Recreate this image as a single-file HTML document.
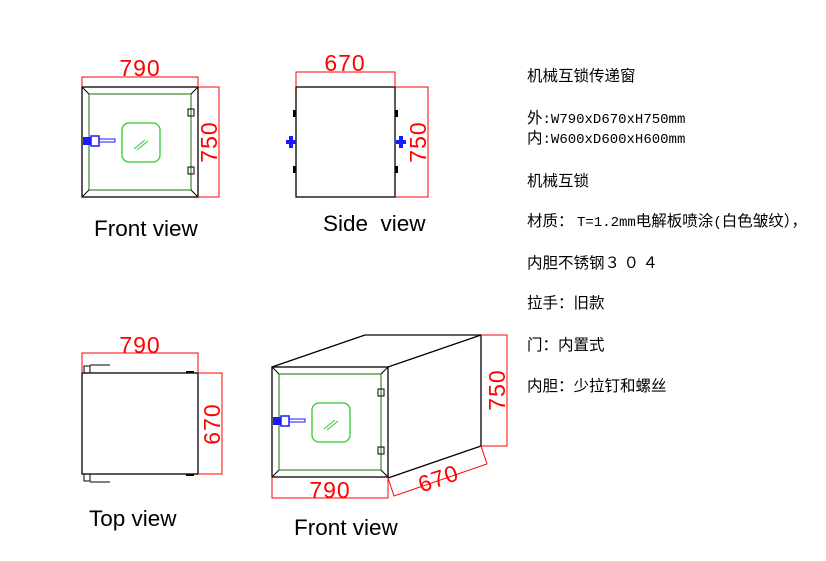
<!DOCTYPE html>
<html><head><meta charset="utf-8"><style>
body{margin:0;background:#fff;width:826px;height:561px;overflow:hidden}
svg{position:absolute;left:0;top:0}
.t{font-family:"Noto Sans CJK SC","WenQuanYi Zen Hei",sans-serif;font-size:15.5px;fill:#000}
.m{font-family:"Liberation Mono",monospace;font-size:14px}
.d{font-family:"Liberation Sans",sans-serif;font-size:23px;fill:#f00;letter-spacing:1px}
.l{font-family:"Liberation Sans",sans-serif;font-size:22.5px;fill:#000}
</style></head><body>
<svg width="826" height="561" viewBox="0 0 826 561">
<defs>
<g id="fv">
<rect x="0" y="0" width="116" height="110" fill="none" stroke="#000" stroke-width="1.3"/>
<rect x="7" y="7" width="102" height="96" fill="none" stroke="#3a8a2a" stroke-width="1.2"/>
<line x1="0" y1="0" x2="7" y2="7" stroke="#000"/><line x1="116" y1="0" x2="109" y2="7" stroke="#000"/>
<line x1="0" y1="110" x2="7" y2="103" stroke="#000"/><line x1="116" y1="110" x2="109" y2="103" stroke="#000"/>
<rect x="40" y="36" width="38" height="39" rx="7" fill="none" stroke="#2ecc2e" stroke-width="1.3"/>
<line x1="52" y1="62" x2="63" y2="53" stroke="#2ecc2e"/><line x1="55" y1="63" x2="66" y2="54" stroke="#2ecc2e"/>
<rect x="106" y="22" width="6" height="7" fill="none" stroke="#000"/>
<rect x="106" y="80" width="6" height="7" fill="none" stroke="#000"/>
<rect x="1" y="50" width="8" height="8" fill="#1a1aff"/>
<rect x="9" y="49" width="8" height="10" fill="none" stroke="#1a1aff" stroke-width="1.5"/>
<rect x="17" y="52" width="16" height="3" fill="none" stroke="#1a1aff"/>
</g>
</defs>
<use href="#fv" x="82" y="87"/>
<g stroke="#f00" stroke-width="1" fill="none">
<polyline points="82,87 82,77 198,77 198,87"/>
<polyline points="198,87 219,87 219,197 198,197"/>
</g>
<text class="d" x="140" y="76" text-anchor="middle">790</text>
<text class="d" transform="translate(217,142) rotate(-90)" text-anchor="middle">750</text>
<text class="l" x="94" y="236">Front view</text>
<rect x="296" y="87" width="99" height="110" fill="none" stroke="#000" stroke-width="1.3"/>
<rect x="293" y="110" width="3" height="7" fill="#000"/><rect x="293" y="166" width="3" height="7" fill="#000"/>
<rect x="395" y="110" width="3" height="7" fill="#000"/><rect x="395" y="166" width="3" height="7" fill="#000"/>
<g fill="#1a1aff"><rect x="286" y="140" width="10" height="4"/><rect x="289" y="136" width="4" height="12"/>
<rect x="396" y="140" width="10" height="4"/><rect x="399" y="136" width="4" height="12"/></g>
<g stroke="#f00" stroke-width="1" fill="none">
<polyline points="296,87 296,72 395,72 395,87"/>
<polyline points="395,87 428,87 428,197 395,197"/>
</g>
<text class="d" x="345" y="71" text-anchor="middle">670</text>
<text class="d" transform="translate(426,142) rotate(-90)" text-anchor="middle">750</text>
<text class="l" x="323" y="231">Side&nbsp;&nbsp;view</text>
<rect x="82" y="373" width="116" height="101" fill="none" stroke="#000" stroke-width="1.3"/>
<g stroke="#000" fill="none"><rect x="84" y="366" width="6" height="7"/><line x1="90" y1="365" x2="110" y2="365"/>
<rect x="84" y="474" width="6" height="7"/><line x1="90" y1="482" x2="110" y2="482"/></g>
<rect x="186" y="371" width="8" height="2" fill="#000"/><rect x="186" y="474" width="8" height="2" fill="#000"/>
<g stroke="#f00" stroke-width="1" fill="none">
<polyline points="82,373 82,353 198,353 198,373"/>
<polyline points="198,373 222,373 222,474 198,474"/>
</g>
<text class="d" x="140" y="353" text-anchor="middle">790</text>
<text class="d" transform="translate(220,424) rotate(-90)" text-anchor="middle">670</text>
<text class="l" x="89" y="526">Top view</text>
<g stroke="#000" stroke-width="1.3" fill="none">
<line x1="272" y1="367" x2="365" y2="335"/><line x1="365" y1="335" x2="481" y2="335"/>
<line x1="388" y1="367" x2="481" y2="335"/><line x1="481" y1="335" x2="481" y2="446"/>
<line x1="388" y1="478" x2="481" y2="446"/>
</g>
<use href="#fv" x="272" y="367"/>
<g stroke="#f00" stroke-width="1" fill="none">
<polyline points="481,335 507,335 507,446 481,446"/>
<polyline points="272,478 272,498 388,498 388,478"/>
<polyline points="388,478 394,496 487,464 481,446"/>
</g>
<text class="d" transform="translate(505,390) rotate(-90)" text-anchor="middle">750</text>
<text class="d" x="330" y="498" text-anchor="middle">790</text>
<text class="d" transform="translate(441,486) rotate(-19)" text-anchor="middle">670</text>
<text class="l" x="294" y="535">Front view</text>
<text class="t" x="527" y="81">机械互锁传递窗</text>
<text class="t" x="527" y="123">外<tspan class="m">:W790xD670xH750mm</tspan></text>
<text class="t" x="527" y="143">内<tspan class="m">:W600xD600xH600mm</tspan></text>
<text class="t" x="527" y="186">机械互锁</text>
<text class="t" x="527" y="226">材质： <tspan class="m" font-size="15">T=1.2mm</tspan>电解板喷涂<tspan class="m">(</tspan>白色皱纹），</text>
<text class="t" x="527" y="268">内胆不锈钢３ ０ ４</text>
<text class="t" x="527" y="308">拉手：旧款</text>
<text class="t" x="527" y="350">门：内置式</text>
<text class="t" x="527" y="391">内胆：少拉钉和螺丝</text>
</svg>
</body></html>
